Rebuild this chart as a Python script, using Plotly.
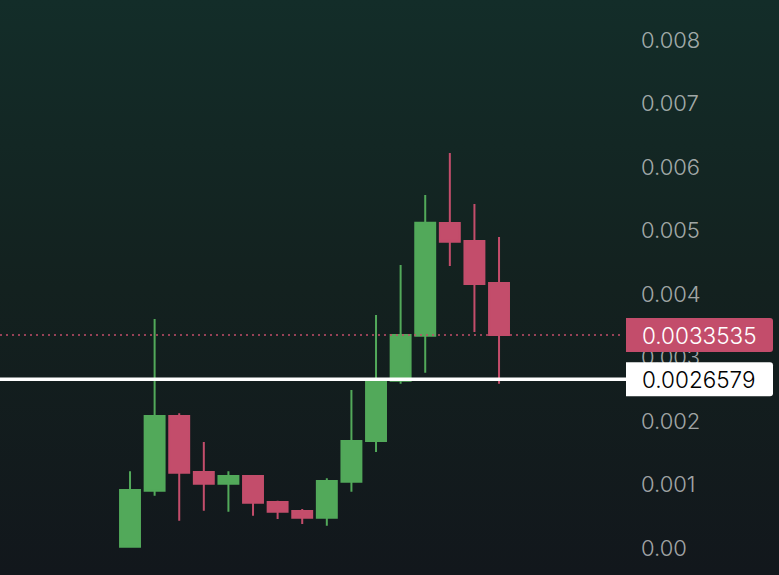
import base64
import plotly.graph_objects as go

# ---- data ----
candle_idx = list(range(16))
opens = [0.00002, 0.000902, 0.002079, 0.001197, 0.001013, 0.001134, 0.000724, 0.000583,
         0.000477, 0.001044, 0.001685, 0.002635, 0.003343, 0.005118, 0.004835, 0.004173]
highs = [0.00121, 0.003606, 0.002121, 0.00167, 0.00121, 0.001134, 0.000745, 0.000614,
         0.001098, 0.002488, 0.003669, 0.004457, 0.005559, 0.00622, 0.005417, 0.004898]
lows = [0.00001, 0.000824, 0.00043, 0.000587, 0.000572, 0.000509, 0.000457, 0.000378,
        0.000351, 0.000887, 0.001512, 0.002587, 0.002761, 0.004441, 0.003402, 0.002587]
closes = [0.000913, 0.002079, 0.001186, 0.001013, 0.001134, 0.000713, 0.000572, 0.000477,
          0.001055, 0.001685, 0.002646, 0.003354, 0.005123, 0.004824, 0.004157, 0.0033535]

tick_vals = [0, 0.001, 0.002, 0.003, 0.004, 0.005, 0.006, 0.007, 0.008]
tick_text = ["0.00", "0.001", "0.002", "0.003", "0.004", "0.005", "0.006", "0.007", "0.008"]

last_price = 0.0033535
last_price_label = "0.0033535"
ref_price = 0.0026579
ref_price_label = "0.0026579"

GREEN = "#52a95a"
RED = "#c34d6b"
FONT = "Inter"

W, H = 779, 575
MR = 155
PW = W - MR

fig = go.Figure()
fig.add_trace(go.Candlestick(
    x=candle_idx, open=opens, high=highs, low=lows, close=closes,
    increasing=dict(line=dict(color=GREEN, width=2), fillcolor=GREEN),
    decreasing=dict(line=dict(color=RED, width=2), fillcolor=RED),
    whiskerwidth=0, showlegend=False, hoverinfo="skip",
))

svg = ('<svg xmlns="http://www.w3.org/2000/svg" width="779" height="575">'
       '<defs><linearGradient id="g" x1="0" y1="0" x2="0" y2="1">'
       '<stop offset="0" stop-color="#132d29"/>'
       '<stop offset="0.5" stop-color="#13211f"/>'
       '<stop offset="1" stop-color="#12171c"/>'
       '</linearGradient></defs><rect width="779" height="575" fill="url(#g)"/></svg>')
bg_uri = "data:image/svg+xml;base64," + base64.b64encode(svg.encode()).decode()

shapes = [
    dict(type="line", xref="paper", yref="y", x0=0, x1=1, y0=last_price, y1=last_price,
         line=dict(color=RED, width=1.5, dash="2px,4px"), layer="above"),
    dict(type="line", xref="paper", yref="y", x0=0, x1=626 / PW, y0=ref_price, y1=ref_price,
         line=dict(color="#ffffff", width=3.5), layer="above"),
]
box_path = "M 2,-17 L 146,-17 Q 149,-17 149,-14 L 149,14 Q 149,17 146,17 L 2,17 Z"
for v, col in [(last_price, RED), (ref_price, "#ffffff")]:
    shapes.append(dict(type="path", xref="paper", yref="y", xsizemode="pixel", ysizemode="pixel",
                       xanchor=1, yanchor=v, path=box_path, fillcolor=col,
                       line=dict(width=0), layer="above"))

annotations = [
    dict(x=1, y=last_price, xref="paper", yref="y", xanchor="left", yanchor="middle",
         xshift=16, text=last_price_label, showarrow=False,
         font=dict(family=FONT, size=22.5, color="#ffffff", weight=300)),
    dict(x=1, y=ref_price, xref="paper", yref="y", xanchor="left", yanchor="middle",
         xshift=16, text=ref_price_label, showarrow=False,
         font=dict(family=FONT, size=22.5, color="#000000", weight=300)),
]

fig.update_layout(
    width=W, height=H,
    margin=dict(l=0, r=MR, t=0, b=0),
    paper_bgcolor="#12171c", plot_bgcolor="rgba(0,0,0,0)",
    boxgap=0.1, boxgroupgap=0.1,
    images=[dict(source=bg_uri, xref="paper", yref="paper", x=0, y=1, sizex=W / PW, sizey=1,
                 xanchor="left", yanchor="top", sizing="stretch", layer="below")],
    shapes=shapes, annotations=annotations,
    xaxis=dict(visible=False, range=[-5.285, 20.08], rangeslider=dict(visible=False),
               fixedrange=True),
    yaxis=dict(side="right", range=[-0.000425, 0.00863], tickvals=tick_vals, ticktext=tick_text,
               showgrid=False, zeroline=False, showline=False, ticks="",
               ticklabelstandoff=16, fixedrange=True,
               tickfont=dict(family=FONT, size=22, color="rgba(255,255,255,0.62)", weight=300)),
    showlegend=False,
)

fig.write_html("out.html", config={"displayModeBar": False},
               post_script="document.body.style.margin='0';document.body.style.background='#12171c';")
